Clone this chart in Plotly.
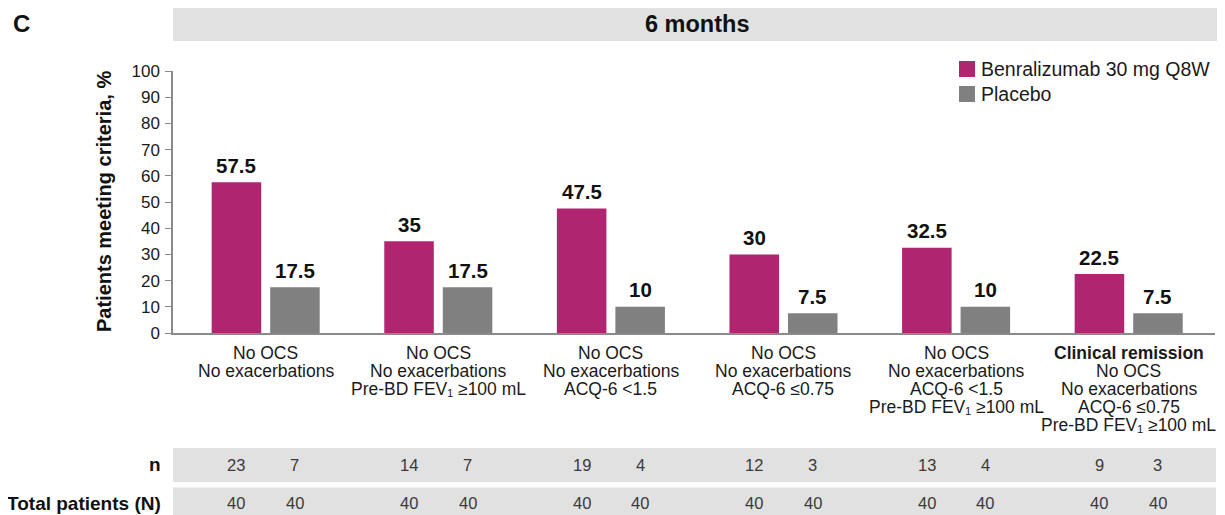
import plotly.graph_objects as go

# ---- data ----
categories = [
    ["No OCS", "No exacerbations"],
    ["No OCS", "No exacerbations", "Pre-BD FEV₁ ≥100 mL"],
    ["No OCS", "No exacerbations", "ACQ-6 <1.5"],
    ["No OCS", "No exacerbations", "ACQ-6 ≤0.75"],
    ["No OCS", "No exacerbations", "ACQ-6 <1.5", "Pre-BD FEV₁ ≥100 mL"],
    ["<b>Clinical remission</b>", "No OCS", "No exacerbations", "ACQ-6 ≤0.75", "Pre-BD FEV₁ ≥100 mL"],
]
benra_pct = [57.5, 35, 47.5, 30, 32.5, 22.5]
placebo_pct = [17.5, 17.5, 10, 7.5, 10, 7.5]
benra_n = [23, 14, 19, 12, 13, 9]
placebo_n = [7, 7, 4, 3, 4, 3]
benra_N = [40, 40, 40, 40, 40, 40]
placebo_N = [40, 40, 40, 40, 40, 40]
series_names = ["Benralizumab 30 mg Q8W", "Placebo"]
y_ticks = list(range(0, 101, 10))

# ---- style ----
FONT = "Liberation Sans, Arial, sans-serif"
C_BENRA = "#AF2570"
C_PLAC = "#808080"
C_BAND = "#E1E1E1"
C_AXIS = "#8a8a8a"
BAR_W = 0.287
OFF_B = -0.313
OFF_P = 0.026
CB = OFF_B + BAR_W / 2
CP = OFF_P + BAR_W / 2

x = list(range(len(categories)))

fig = go.Figure()
fig.add_trace(go.Bar(x=x, y=benra_pct, width=BAR_W, offset=OFF_B,
                     marker=dict(color=C_BENRA, line=dict(width=0)),
                     name=series_names[0], showlegend=False))
fig.add_trace(go.Bar(x=x, y=placebo_pct, width=BAR_W, offset=OFF_P,
                     marker=dict(color=C_PLAC, line=dict(width=0)),
                     name=series_names[1], showlegend=False))

ann = []
shapes = []

# value labels
for i, (b, p) in enumerate(zip(benra_pct, placebo_pct)):
    for xv, v in ((i + CB, b), (i + CP, p)):
        ann.append(dict(x=xv, y=v, xref="x", yref="y", text=f"<b>{v:g}</b>",
                        showarrow=False, xanchor="center", yanchor="middle", yshift=17,
                        font=dict(family=FONT, size=20.5, color="#111")))

# category labels
for i, lines in enumerate(categories):
    for k, line in enumerate(lines):
        ann.append(dict(x=i, y=0, xref="x", yref="paper", text=line,
                        showarrow=False, xanchor="center", yanchor="middle",
                        yshift=-(20 + 18 * k),
                        font=dict(family=FONT, size=17.5, color="#1a1a1a")))

# title band
shapes.append(dict(type="rect", xref="paper", yref="paper", x0=0, x1=1.0048,
                   y0=1.1145, y1=1.2443, fillcolor=C_BAND, line=dict(width=0), layer="below"))
ann.append(dict(x=0.5024, y=1.1794, xref="paper", yref="paper", text="<b>6 months</b>",
                showarrow=False, xanchor="center", yanchor="middle",
                font=dict(family=FONT, size=23.5, color="#111")))
ann.append(dict(x=-0.155, y=1.1794, xref="paper", yref="paper", text="<b>C</b>",
                showarrow=False, xanchor="left", yanchor="middle",
                font=dict(family=FONT, size=24, color="#111")))

# y-axis title
ann.append(dict(x=-0.0662, y=0.5, xref="paper", yref="paper", text="<b>Patients meeting criteria, %</b>",
                textangle=-90, showarrow=False, xanchor="center", yanchor="middle",
                font=dict(family=FONT, size=20, color="#111")))

# legend (manual)
for j, (name, col) in enumerate(zip(series_names, [C_BENRA, C_PLAC])):
    yc = 1.0076 - j * 0.0954
    shapes.append(dict(type="rect", xref="paper", yref="paper", x0=0.7543, x1=0.7697,
                       y0=yc - 0.0305, y1=yc + 0.0305, fillcolor=col, line=dict(width=0)))
    ann.append(dict(x=0.7735, y=yc, xref="paper", yref="paper", text=name, xanchor="left",
                    yanchor="middle", showarrow=False,
                    font=dict(family=FONT, size=19.5, color="#1a1a1a")))

# table bands and rows
rows = [("n", benra_n, placebo_n, -0.4389, -0.5687, -0.5038),
        ("Total patients (N)", benra_N, placebo_N, -0.5897, -0.70, -0.650)]
for label, bv, pv, y1, y0, yc in rows:
    shapes.append(dict(type="rect", xref="paper", yref="paper", x0=0, x1=1.001,
                       y0=y0, y1=y1, fillcolor=C_BAND, line=dict(width=0), layer="below"))
    ann.append(dict(x=-0.0096, y=yc, xref="paper", yref="paper", text=f"<b>{label}</b>",
                    xanchor="right", yanchor="middle", showarrow=False,
                    font=dict(family=FONT, size=19, color="#111")))
    for i, (a, b) in enumerate(zip(bv, pv)):
        for xv, v in ((i + CB, a), (i + CP, b)):
            ann.append(dict(x=xv, y=yc, xref="x", yref="paper", text=str(v), showarrow=False,
                            xanchor="center", yanchor="middle",
                            font=dict(family=FONT, size=16.5, color="#3a3a3a")))

# page body has an 8px margin: size the figure so it lands on the 1225x515 frame
fig.update_layout(
    width=1217, height=507,
    margin=dict(l=165, r=10, t=63, b=182, pad=0),
    paper_bgcolor="white", plot_bgcolor="white",
    barmode="overlay",
    showlegend=False,
    font=dict(family=FONT, color="#111"),
    xaxis=dict(range=[-0.537, 5.5], showticklabels=False, ticks="", showgrid=False,
               zeroline=False, showline=True, linecolor=C_AXIS, linewidth=1.5, fixedrange=True),
    yaxis=dict(range=[0, 100], tickvals=y_ticks, ticks="outside", ticklen=6, tickwidth=1.2,
               tickcolor=C_AXIS, showline=True, linecolor=C_AXIS, linewidth=1.5,
               showgrid=False, zeroline=False, ticklabelstandoff=2,
               tickfont=dict(family=FONT, size=17, color="#1a1a1a")),
    annotations=ann,
    shapes=shapes,
)

fig.write_html("out.html")
